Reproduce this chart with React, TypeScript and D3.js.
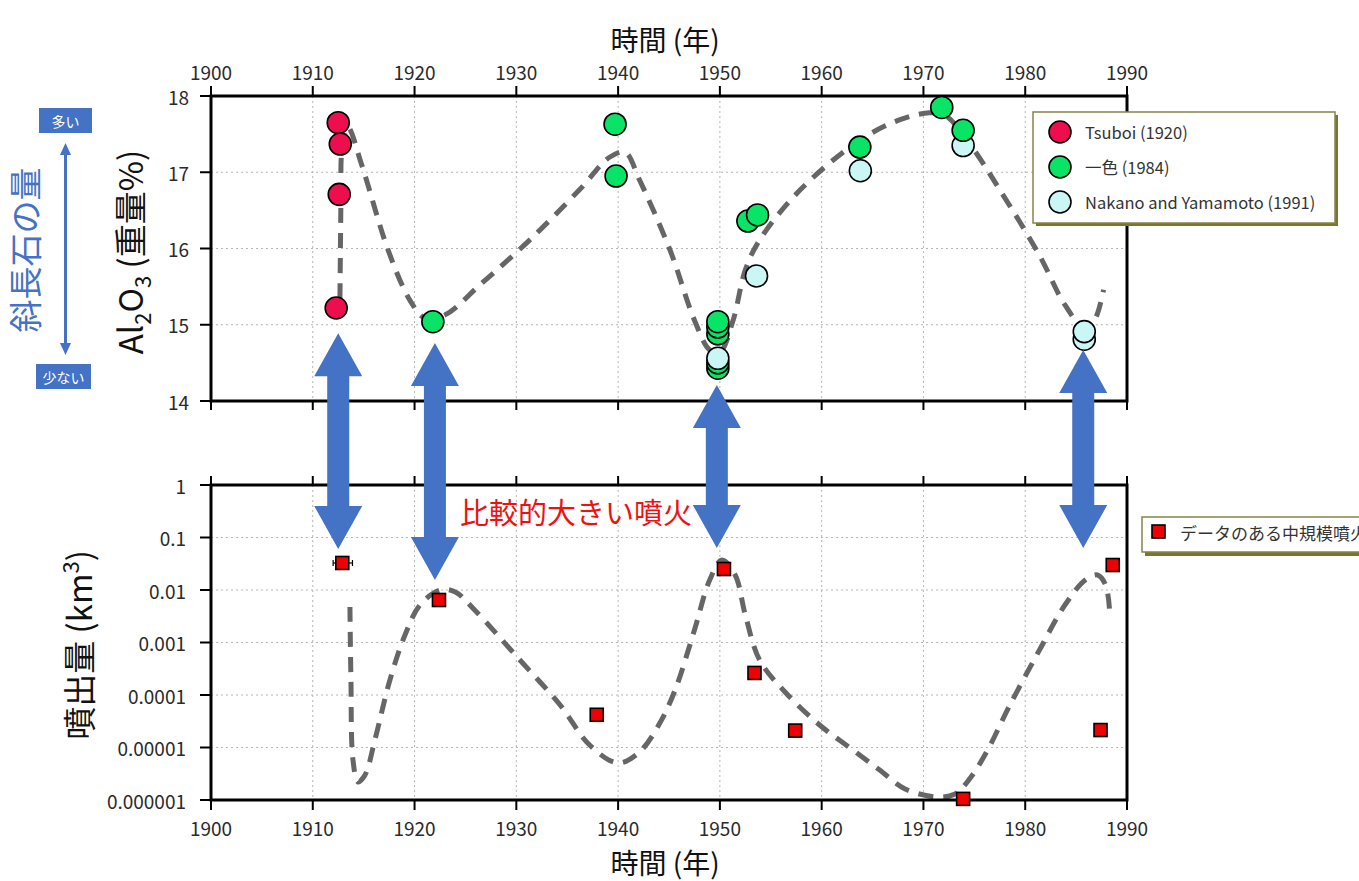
import React from "react";
import * as d3 from "d3";

// ---- Al2O3 (wt%) by source: [year, value]
const tsuboiData: [number, number][] = [
  [1912.5, 17.65],
  [1912.7, 17.37],
  [1912.6, 16.71],
  [1912.3, 15.22],
];
const isshikiData: [number, number][] = [
  [1921.8, 15.04],
  [1939.7, 17.63],
  [1939.8, 16.95],
  [1949.8, 15.04],
  [1949.8, 14.97],
  [1949.8, 14.88],
  [1949.8, 14.5],
  [1949.8, 14.43],
  [1952.75, 16.36],
  [1953.7, 16.44],
  [1963.75, 17.33],
  [1971.8, 17.85],
  [1973.9, 17.55],
];
const nakanoData: [number, number][] = [
  [1949.8, 14.56],
  [1953.6, 15.64],
  [1963.8, 17.02],
  [1973.9, 17.35],
  [1985.8, 14.91],
  [1985.8, 14.81],
];

// trend line drawn through the Al2O3 series
const alTrend: [number, number][] = [
  [1912.67, 15.35], [1912.77, 16.64], [1912.87, 17.29], [1913.46, 17.59],
  [1914.8, 17.1], [1917.4, 15.98], [1919.55, 15.32], [1921.0, 15.09],
  [1923.0, 15.13], [1926.4, 15.52], [1931.3, 16.11], [1936.2, 16.77],
  [1939.2, 17.2], [1940.7, 17.26], [1942.1, 16.9], [1945.1, 15.98],
  [1947.5, 15.06], [1949.0, 14.67], [1950.0, 14.64], [1951.3, 15.06],
  [1952.5, 15.72], [1953.9, 16.11], [1957.9, 16.77], [1963.75, 17.42],
  [1967.7, 17.69], [1970.6, 17.78], [1972.1, 17.75], [1974.6, 17.36],
  [1977.5, 16.77], [1981.4, 15.91], [1983.9, 15.26], [1985.8, 14.96],
  [1986.8, 15.06], [1987.7, 15.46],
];

// ---- erupted volume (km3)
const eruptionYears = [1912.9, 1922.4, 1937.9, 1950.4, 1953.4, 1957.4, 1973.9, 1988.6, 1987.4];
const eruptionVolumes = [0.0327, 0.00645, 4.2e-5, 0.0251, 2.63e-4, 2.1e-5, 1.05e-6, 0.0299, 2.15e-5];
// horizontal uncertainty on the 1913 eruption [from, to]
const eruptionYearRange: [number, number] = [1912.0, 1913.9];

// trend line for the volume panel: [year, log10(volume)]
const volTrendLog: [number, number][] = [
  [1913.65, -2.324], [1913.75, -3.714], [1913.95, -5.238], [1914.44, -5.657],
  [1915.13, -5.524], [1916.1, -4.857], [1917.58, -3.714], [1919.06, -2.857],
  [1920.53, -2.286], [1922.5, -2.0], [1924.0, -2.038], [1925.9, -2.381],
  [1930.35, -3.333], [1934.3, -4.19], [1937.2, -4.952], [1940.0, -5.295],
  [1942.1, -5.086], [1944.1, -4.533], [1945.6, -3.905], [1947.5, -2.762],
  [1949.0, -1.81], [1950.2, -1.429], [1951.5, -1.714], [1952.5, -2.476],
  [1953.9, -3.333], [1956.4, -3.943], [1959.8, -4.571], [1962.8, -5.01],
  [1965.7, -5.429], [1968.2, -5.79], [1971.4, -5.943], [1973.1, -5.886],
  [1974.6, -5.581], [1976.2, -5.086], [1978.5, -4.19], [1981.4, -3.143],
  [1983.9, -2.286], [1985.9, -1.81], [1987.1, -1.714], [1987.9, -1.905],
  [1988.3, -2.419],
];

// highlighted larger eruptions: [year, Al2O3 at upper tip, volume at lower tip]
const bigEruptions: [number, number, number][] = [
  [1912.5, 14.89, 0.0604],
  [1922.0, 14.76, 0.0155],
  [1949.7, 14.21, 0.063],
  [1985.7, 14.67, 0.063],
];

const yearTicks = [1900, 1910, 1920, 1930, 1940, 1950, 1960, 1970, 1980, 1990];
const alTicks = [14, 15, 16, 17, 18];
const volTicks = [1, 0.1, 0.01, 0.001, 0.0001, 0.00001, 0.000001];
const volTickLabels = ["1", "0.1", "0.01", "0.001", "0.0001", "0.00001", "0.000001"];

const legendTop = ["Tsuboi (1920)", "一色 (1984)", "Nakano and Yamamoto (1991)"];
const legendBottom = "データのある中規模噴火";

const FONT = "'Noto Sans CJK JP', 'Noto Sans', sans-serif";
const C_TSUBOI = "#EE0E50";
const C_ISSHIKI = "#0AE466";
const C_NAKANO = "#CBF6F6";
const C_BLUE = "#4472C4";
const C_TREND = "#666666";
const C_GRID = "#b5b5b5";

export default function App() {
  const W = 1359;
  const H = 881;
  const x = d3.scaleLinear().domain([1900, 1990]).range([211, 1127]);
  const yTop = d3.scaleLinear().domain([14, 18]).range([401, 96]);
  const yBot = d3.scaleLog().domain([1e-6, 1]).range([800, 485]);

  const [x0, x1] = x.range();
  const topY0 = yTop(18);
  const topY1 = yTop(14);
  const botY0 = yBot(1);
  const botY1 = yBot(1e-6);

  const alLine = d3
    .line<[number, number]>()
    .x((d) => x(d[0]))
    .y((d) => yTop(d[1]))
    .curve(d3.curveCatmullRom.alpha(0.5));
  const volLine = d3
    .line<[number, number]>()
    .x((d) => x(d[0]))
    .y((d) => yBot(Math.pow(10, d[1])))
    .curve(d3.curveCatmullRom.alpha(0.5));

  // merged Al2O3 points for layering: lower values first
  const mixed = [
    ...isshikiData.map((d) => ({ d, fill: C_ISSHIKI })),
    ...nakanoData.map((d) => ({ d, fill: C_NAKANO })),
  ].sort((a, b) => a.d[1] - b.d[1]);

  const arrowPath = (cx: number, yA: number, yB: number) => {
    const hl = 43;
    const hw = 24;
    const sw = 11;
    return (
      [
        [cx, yA],
        [cx + hw, yA + hl],
        [cx + sw, yA + hl],
        [cx + sw, yB - hl],
        [cx + hw, yB - hl],
        [cx, yB],
        [cx - hw, yB - hl],
        [cx - sw, yB - hl],
        [cx - sw, yA + hl],
        [cx - hw, yA + hl],
      ]
        .map((p, i) => (i === 0 ? "M" : "L") + p[0] + "," + p[1])
        .join("") + "Z"
    );
  };

  const sq = 13;

  return (
    <svg
      width={W}
      height={H}
      style={{ position: "fixed", left: 0, top: 0, background: "#fff" }}
      fontFamily={FONT}
    >
      <rect x={0} y={0} width={W} height={H} fill="#fff" />

      {/* ---------- grids ---------- */}
      <g stroke={C_GRID} strokeWidth={1} strokeDasharray="2 3">
        {yearTicks.slice(1, -1).map((t) => (
          <g key={"gx" + t}>
            <line x1={x(t)} x2={x(t)} y1={topY0} y2={topY1} />
            <line x1={x(t)} x2={x(t)} y1={botY0} y2={botY1} />
          </g>
        ))}
        {alTicks.slice(1, -1).map((t) => (
          <line key={"gy" + t} x1={x0} x2={x1} y1={yTop(t)} y2={yTop(t)} />
        ))}
        {volTicks.slice(1, -1).map((t) => (
          <line key={"gv" + t} x1={x0} x2={x1} y1={yBot(t)} y2={yBot(t)} />
        ))}
      </g>

      {/* ---------- trend lines ---------- */}
      <path d={alLine(alTrend) || ""} fill="none" stroke={C_TREND} strokeWidth={5} strokeDasharray="15 10" />
      <path d={volLine(volTrendLog) || ""} fill="none" stroke={C_TREND} strokeWidth={5} strokeDasharray="15 10" />

      {/* ---------- frames & ticks ---------- */}
      <g stroke="#000" fill="none">
        <rect x={x0} y={topY0} width={x1 - x0} height={topY1 - topY0} strokeWidth={3} />
        <path d={`M${x0},${botY0}H${x1}V${botY1}H${x0}Z`} strokeWidth={3} />
        {yearTicks.map((t) => (
          <g key={"tx" + t} strokeWidth={2}>
            <line x1={x(t)} x2={x(t)} y1={topY0 - 10} y2={topY0} />
            <line x1={x(t)} x2={x(t)} y1={topY1} y2={topY1 + 9} />
            <line x1={x(t)} x2={x(t)} y1={botY0 - 9} y2={botY0} />
            <line x1={x(t)} x2={x(t)} y1={botY1} y2={botY1 + 10} />
          </g>
        ))}
        {alTicks.map((t) => (
          <line key={"ty" + t} x1={x0 - 11} x2={x0} y1={yTop(t)} y2={yTop(t)} strokeWidth={2} />
        ))}
        {volTicks.map((t) => (
          <line key={"tv" + t} x1={x0 - 11} x2={x0} y1={yBot(t)} y2={yBot(t)} strokeWidth={2} />
        ))}
      </g>

      {/* ---------- tick labels ---------- */}
      <g fontSize={19} fill="#2a2a2a">
        {yearTicks.map((t) => (
          <g key={"lx" + t}>
            <text x={x(t)} y={80} textAnchor="middle">{t}</text>
            <text x={x(t)} y={836} textAnchor="middle">{t}</text>
          </g>
        ))}
        {alTicks.map((t) => (
          <text key={"ly" + t} x={189} y={yTop(t)} textAnchor="end" dominantBaseline="central">
            {t}
          </text>
        ))}
        {volTicks.map((t, i) => (
          <text key={"lv" + t} x={186} y={yBot(t)} textAnchor="end" dominantBaseline="central">
            {volTickLabels[i]}
          </text>
        ))}
      </g>

      {/* ---------- axis titles ---------- */}
      <text x={665} y={51} fontSize={28} textAnchor="middle" fill="#111">
        時間 (年)
      </text>
      <text x={665} y={874} fontSize={28} textAnchor="middle" fill="#111">
        時間 (年)
      </text>
      <text
        transform="translate(143,252) rotate(-90)"
        fontSize={33}
        textAnchor="middle"
        fill="#111"
      >
        Al<tspan dy={8} fontSize={22}>2</tspan>
        <tspan dy={-8}>O</tspan>
        <tspan dy={8} fontSize={22}>3</tspan>
        <tspan dy={-8}> (重量%)</tspan>
      </text>
      <text
        transform="translate(92,645) rotate(-90)"
        fontSize={33}
        textAnchor="middle"
        fill="#111"
      >
        噴出量 (km<tspan dy={-13} fontSize={22}>3</tspan>
        <tspan dy={13}>)</tspan>
      </text>

      {/* ---------- plagioclase side note ---------- */}
      <text
        transform="translate(38,250) rotate(-90)"
        fontSize={33}
        textAnchor="middle"
        fill={C_BLUE}
      >
        斜長石の量
      </text>
      <rect x={39} y={108} width={53} height={25} fill={C_BLUE} />
      <text x={65.5} y={121} fontSize={14} fill="#fff" textAnchor="middle" dominantBaseline="central">
        多い
      </text>
      <rect x={36} y={364} width={55} height={25} fill={C_BLUE} />
      <text x={63.5} y={377} fontSize={14} fill="#fff" textAnchor="middle" dominantBaseline="central">
        少ない
      </text>
      <line x1={65.5} x2={65.5} y1={152} y2={346} stroke={C_BLUE} strokeWidth={3} />
      <path d="M65.5,143 L60,155 L71,155 Z" fill={C_BLUE} />
      <path d="M65.5,355 L60,343 L71,343 Z" fill={C_BLUE} />

      {/* ---------- Al2O3 points ---------- */}
      <g stroke="#000" strokeWidth={1.6}>
        {tsuboiData.map((d, i) => (
          <circle key={"ts" + i} cx={x(d[0])} cy={yTop(d[1])} r={11} fill={C_TSUBOI} />
        ))}
        {mixed.map((p, i) => (
          <circle key={"mx" + i} cx={x(p.d[0])} cy={yTop(p.d[1])} r={11} fill={p.fill} />
        ))}
      </g>

      {/* ---------- eruption volumes ---------- */}
      <g stroke="#000" strokeWidth={1.2}>
        <line x1={x(eruptionYearRange[0])} x2={x(eruptionYearRange[1])} y1={yBot(eruptionVolumes[0])} y2={yBot(eruptionVolumes[0])} />
        <line x1={x(eruptionYearRange[0])} x2={x(eruptionYearRange[0])} y1={yBot(eruptionVolumes[0]) - 3} y2={yBot(eruptionVolumes[0]) + 3} />
        <line x1={x(eruptionYearRange[1])} x2={x(eruptionYearRange[1])} y1={yBot(eruptionVolumes[0]) - 3} y2={yBot(eruptionVolumes[0]) + 3} />
      </g>
      <g stroke="#000" strokeWidth={1.6} fill="#F00000">
        {eruptionYears.map((yr, i) => (
          <rect
            key={"er" + i}
            x={x(yr) - sq / 2}
            y={yBot(eruptionVolumes[i]) - sq / 2}
            width={sq}
            height={sq}
          />
        ))}
      </g>

      {/* ---------- big eruption arrows ---------- */}
      <g fill={C_BLUE}>
        {bigEruptions.map((b, i) => (
          <path key={"ar" + i} d={arrowPath(x(b[0]), yTop(b[1]), yBot(b[2]))} />
        ))}
      </g>
      <text x={460} y={511} fontSize={29} fill="#F01010" dominantBaseline="central">
        比較的大きい噴火
      </text>

      {/* ---------- legends ---------- */}
      <g>
        <rect x={1036} y={115} width={302} height={111} fill="#77772f" />
        <rect x={1033} y={112} width={302} height={111} fill="#fff" stroke="#85854a" strokeWidth={1.5} />
        {legendTop.map((label, i) => (
          <g key={"lg" + i}>
            <circle
              cx={1060}
              cy={132 + i * 35}
              r={11}
              fill={[C_TSUBOI, C_ISSHIKI, C_NAKANO][i]}
              stroke="#000"
              strokeWidth={1.6}
            />
            <text x={1085} y={132 + i * 35} fontSize={16.5} fill="#333" dominantBaseline="central">
              {label}
            </text>
          </g>
        ))}
      </g>
      <g>
        <rect x={1145} y={521} width={240} height={35} fill="#77772f" />
        <rect x={1142} y={517} width={240} height={35} fill="#fff" stroke="#85854a" strokeWidth={1.5} />
        <rect x={1152} y={525} width={13} height={13} fill="#F00000" stroke="#000" strokeWidth={1.6} />
        <text x={1180} y={532} fontSize={17} fill="#333" dominantBaseline="central">
          {legendBottom}
        </text>
      </g>
    </svg>
  );
}
